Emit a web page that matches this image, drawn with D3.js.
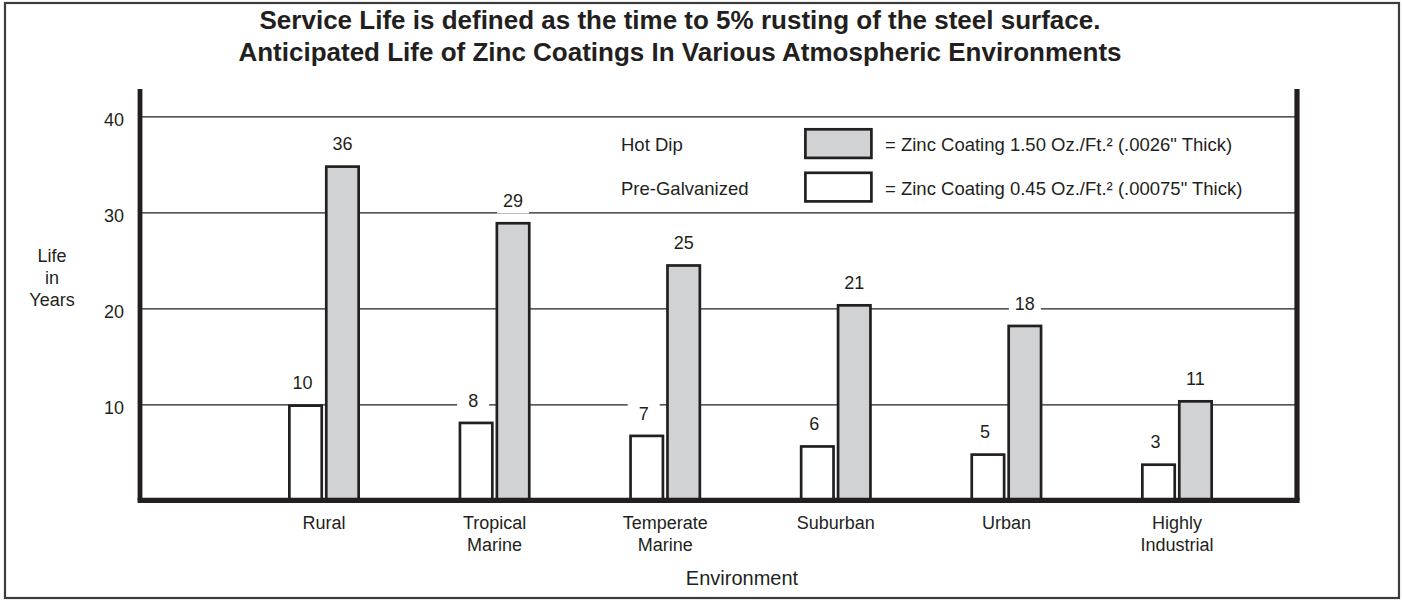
<!DOCTYPE html>
<html>
<head>
<meta charset="utf-8">
<script src="https://cdn.jsdelivr.net/npm/d3@7"></script>
<style>
  body { margin: 0; background: #fff; }
  svg { display: block; font-family: "Liberation Sans", Arial, Helvetica, sans-serif; }
  text { fill: #231f20; }
</style>
</head>
<body>
<script>
// data
const environments = ["Rural", "Tropical Marine", "Temperate Marine", "Suburban", "Urban", "Highly Industrial"];
const series = ["Pre-Galvanized", "Hot Dip"];
// bar heights as drawn (years)
const preGalvanized = [10.0, 8.2, 6.85, 5.75, 4.9, 3.85];
const hotDip = [34.9, 29.0, 24.6, 20.45, 18.3, 10.45];
// numbers printed above the bars
const preGalvanizedLabels = ["10", "8", "7", "6", "5", "3"];
const hotDipLabels = ["36", "29", "25", "21", "18", "11"];
const yTicks = [10, 20, 30, 40];
const legendNotes = {
  "Hot Dip": "= Zinc Coating 1.50 Oz./Ft.\u00b2 (.0026\" Thick)",
  "Pre-Galvanized": "= Zinc Coating 0.45 Oz./Ft.\u00b2 (.00075\" Thick)"
};
const titleLines = [
  "Service Life is defined as the time to 5% rusting of the steel surface.",
  "Anticipated Life of Zinc Coatings In Various Atmospheric Environments"
];

const width = 1403;
const height = 600;
const ink = "#231f20";
const grey = "#d1d2d4";

const frame = { left: 140, right: 1297, top: 89, bottom: 500.3 };

const svg = d3.select("body").append("svg")
    .attr("width", width)
    .attr("height", height);

// outer box
svg.append("rect")
    .attr("x", 5).attr("y", 3)
    .attr("width", 1394).attr("height", 595)
    .attr("fill", "none")
    .attr("stroke", "#3c3c3c")
    .attr("stroke-width", 2.2);

// title
svg.append("g").selectAll("text")
    .data(titleLines)
    .enter().append("text")
    .attr("x", 680)
    .attr("y", (d, i) => 29 + i * 32)
    .attr("text-anchor", "middle")
    .style("font-size", "26px")
    .style("font-weight", "bold")
    .text(d => d);

const x = d3.scalePoint()
    .domain(environments)
    .range([324, 1177]);

const sub = d3.scaleBand()
    .domain(series)
    .range([-36, 36])
    .paddingInner(0.05);

const y = d3.scaleLinear()
    .domain([0, 40])
    .range([frame.bottom, 116.3]);

// gridlines + tick labels
const yAxis = svg.append("g")
    .attr("transform", `translate(${frame.left},0)`)
    .call(d3.axisLeft(y)
        .tickValues(yTicks)
        .tickSize(-(frame.right - frame.left))
        .tickPadding(16));
yAxis.select(".domain").remove();
yAxis.selectAll(".tick line")
    .attr("stroke", ink)
    .attr("stroke-width", 1.3);
yAxis.selectAll(".tick text")
    .attr("dy", "0.5em")
    .style("font-size", "18px")
    .style("font-family", "\"Liberation Sans\", Arial, sans-serif")
    .attr("fill", ink);

// y title
svg.append("g").selectAll("text")
    .data(["Life", "in", "Years"])
    .enter().append("text")
    .attr("x", 52)
    .attr("y", (d, i) => 262 + i * 22)
    .attr("text-anchor", "middle")
    .style("font-size", "18px")
    .text(d => d);

// bars
const rows = environments.map((env, i) => ({
  env,
  values: [
    { key: "Pre-Galvanized", value: preGalvanized[i], label: preGalvanizedLabels[i] },
    { key: "Hot Dip", value: hotDip[i], label: hotDipLabels[i] }
  ]
}));

const sw = 2.7;
const labelShift = { "Pre-Galvanized": -3, "Hot Dip": 0 };

const group = svg.append("g").selectAll("g")
    .data(rows)
    .enter().append("g")
    .attr("transform", d => `translate(${x(d.env)},0)`);

// white patches behind the value labels, they cut the gridlines
group.selectAll(".labelbg")
    .data(d => d.values)
    .enter().append("rect")
    .attr("class", "labelbg")
    .attr("x", d => sub(d.key) + sub.bandwidth() / 2 + labelShift[d.key] - 16)
    .attr("y", d => y(d.value) - 34.5)
    .attr("width", 32)
    .attr("height", 26)
    .attr("fill", "#fff");

group.selectAll(".bar")
    .data(d => d.values)
    .enter().append("rect")
    .attr("class", "bar")
    .attr("x", d => sub(d.key) + sw / 2)
    .attr("y", d => y(d.value) + sw / 2)
    .attr("width", sub.bandwidth() - sw)
    .attr("height", d => y(0) - y(d.value) - sw / 2)
    .attr("fill", d => d.key === "Hot Dip" ? grey : "#fff")
    .attr("stroke", ink)
    .attr("stroke-width", sw);

group.selectAll(".val")
    .data(d => d.values)
    .enter().append("text")
    .attr("class", "val")
    .attr("x", d => sub(d.key) + sub.bandwidth() / 2 + labelShift[d.key])
    .attr("y", d => y(d.value) - 15)
    .attr("text-anchor", "middle")
    .style("font-size", "18px")
    .text(d => d.label);

// category labels
group.append("text")
    .attr("text-anchor", "middle")
    .style("font-size", "18px")
    .selectAll("tspan")
    .data(d => d.env.split(" "))
    .enter().append("tspan")
    .attr("x", 0)
    .attr("y", (d, i) => 529 + i * 22)
    .text(d => d);

// axis frame: thick left, right and bottom lines
svg.append("line")
    .attr("x1", frame.left).attr("x2", frame.left)
    .attr("y1", frame.top).attr("y2", frame.bottom)
    .attr("stroke", ink).attr("stroke-width", 4.8);
svg.append("line")
    .attr("x1", frame.right).attr("x2", frame.right)
    .attr("y1", frame.top).attr("y2", frame.bottom)
    .attr("stroke", ink).attr("stroke-width", 5.2);
svg.append("line")
    .attr("x1", frame.left - 2.4).attr("x2", frame.right + 2.6)
    .attr("y1", frame.bottom).attr("y2", frame.bottom)
    .attr("stroke", ink).attr("stroke-width", 5.2);

// x title
svg.append("text")
    .attr("x", 742)
    .attr("y", 585)
    .attr("text-anchor", "middle")
    .style("font-size", "20px")
    .text("Environment");

// legend
const legendOrder = ["Hot Dip", "Pre-Galvanized"];
const legend = svg.append("g").selectAll("g")
    .data(legendOrder)
    .enter().append("g")
    .attr("transform", (d, i) => `translate(0,${143.5 + i * 43.5})`);

legend.append("text")
    .attr("x", 621)
    .attr("y", 7.5)
    .style("font-size", "18.5px")
    .text(d => d);

legend.append("rect")
    .attr("x", 805.4)
    .attr("y", -14.2)
    .attr("width", 66)
    .attr("height", 28.6)
    .attr("fill", d => d === "Hot Dip" ? grey : "#fff")
    .attr("stroke", ink)
    .attr("stroke-width", 2.7);

legend.append("text")
    .attr("x", 885)
    .attr("y", 7.5)
    .style("font-size", "18.5px")
    .text(d => legendNotes[d]);
</script>
</body>
</html>
